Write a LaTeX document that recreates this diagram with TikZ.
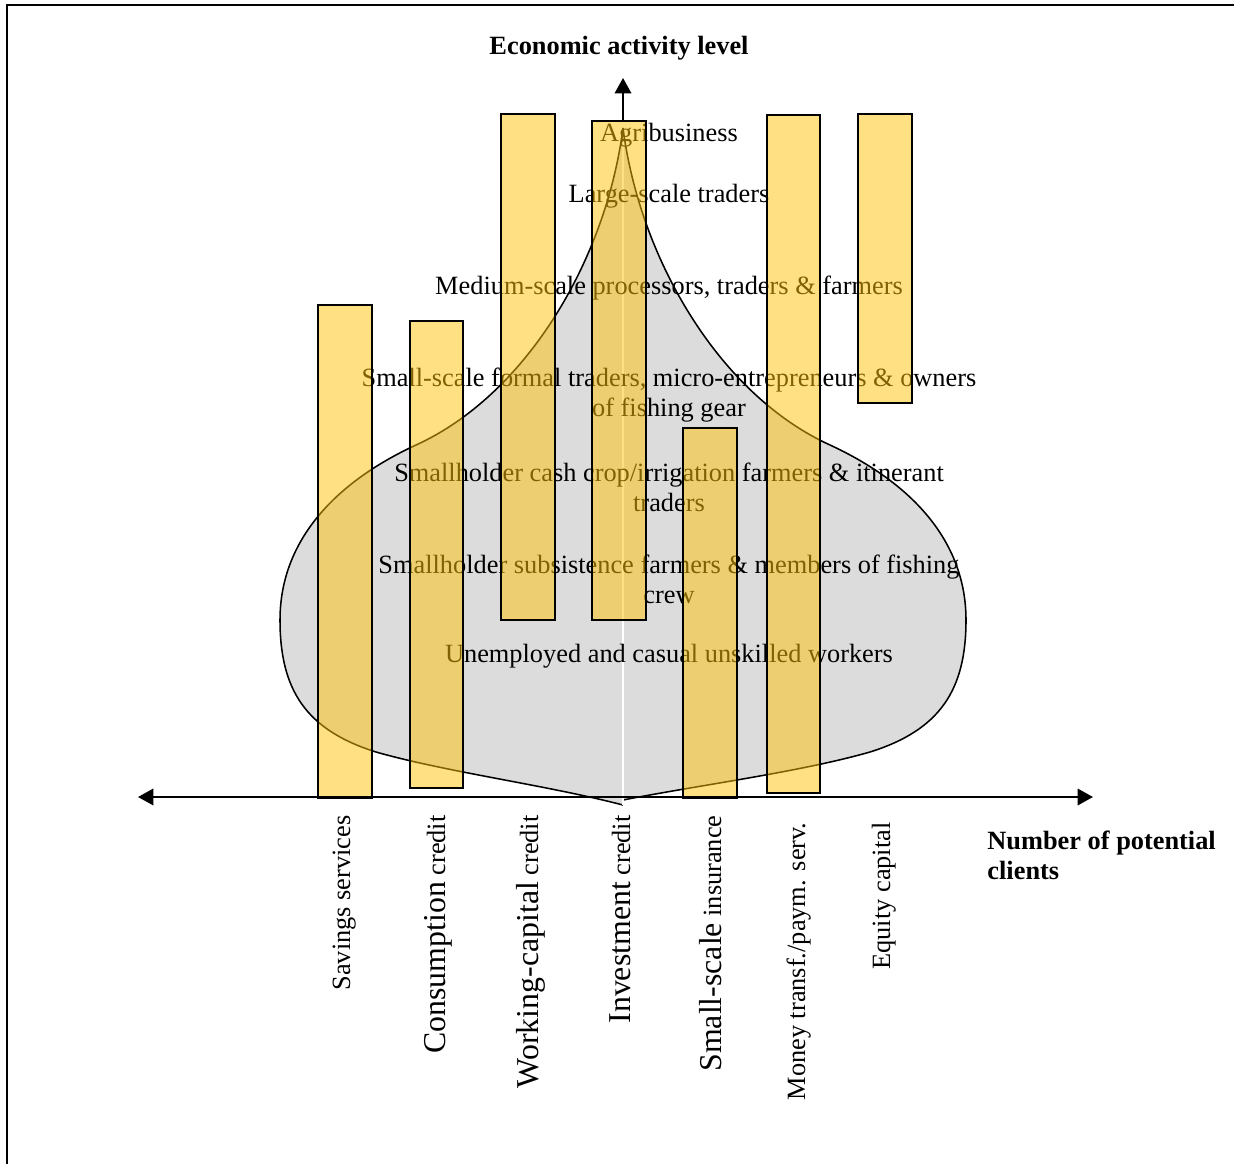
\documentclass[tikz,border=0pt]{standalone}
\usepackage{fontspec}
\setmainfont{Liberation Serif}
\usetikzlibrary{arrows.meta,positioning}

\definecolor{baryellow}{RGB}{255,196,10}
\definecolor{shapegray}{RGB}{220,220,220}
\newcommand{\biglbl}[1]{{\fontsize{14.5}{16}\selectfont #1}}

\tikzset{
  bar/.style={draw=black,line width=.9pt,fill=baryellow,fill opacity=.5},
  group/.style={align=center,inner sep=0pt},
  prod/.style={rotate=90,anchor=base east,inner sep=0pt},
  axistitle/.style={font=\fontsize{12}{13.6}\selectfont\bfseries,inner sep=0pt}
}

\begin{document}
\begin{tikzpicture}[x=0.016cm,y=-0.016cm,
    every node/.style={font=\fontsize{12}{13.6}\selectfont},
    >={Triangle[length=7pt,width=7.5pt]}]
    \useasboundingbox (0,0) rectangle (1234,1164);

    % frame
    \draw[line width=1pt] (7,1164) -- (7,5) -- (1234,5);

    % client distribution
    \fill[shapegray] (623,128) .. controls (640,260) and (720,395) .. (830,445)
      .. controls (910,482) and (966,540) .. (966,620)
      .. controls (966,690) and (940,730) .. (870,752)
      .. controls (800,772) and (700,785) .. (623,800)
      -- (623,805)
      .. controls (546,785) and (446,772) .. (376,752)
      .. controls (306,730) and (280,690) .. (280,620)
      .. controls (280,540) and (336,482) .. (416,445)
      .. controls (526,395) and (606,260) .. (623,128) -- cycle;
    \draw[line width=.7pt] (623,128) .. controls (640,260) and (720,395) .. (830,445)
      .. controls (910,482) and (966,540) .. (966,620)
      .. controls (966,690) and (940,730) .. (870,752)
      .. controls (800,772) and (700,785) .. (623,800);
    \draw[line width=.7pt] (623,128) .. controls (606,260) and (526,395) .. (416,445)
      .. controls (336,482) and (280,540) .. (280,620)
      .. controls (280,690) and (306,730) .. (376,752)
      .. controls (446,772) and (546,785) .. (623,805);
    \draw[white,line width=.8pt] (623,140) -- (623,805);

    \node[group] (agri) at (669,135) {Agribusiness};
    \node[group] (large) at (669,196) {Large-scale traders};
    \node[group] (medium) at (669,288) {Medium-scale processors, traders \& farmers};
    \node[group] (formal) at (669,395) {Small-scale formal traders, micro-entrepreneurs \& owners\\of fishing gear};
    \node[group] (cash) at (669,487) {Smallholder cash crop/irrigation farmers \& itinerant\\traders};
    \node[group] (subsist) at (669,579) {Smallholder subsistence farmers \& members of fishing\\crew};
    \node[group] (unemp) at (669,656) {Unemployed and casual unskilled workers};

    % services
    \draw[bar] (318,305) rectangle (372,798);
    \draw[bar] (410,321) rectangle (463,788);
    \draw[bar] (501,114) rectangle (555,620);
    \draw[bar] (592,121) rectangle (646,620);
    \draw[bar] (683,428) rectangle (737,798);
    \draw[bar] (767,115) rectangle (820,793);
    \draw[bar] (858,114) rectangle (912,403);

    \node[prod] (savings) at (350,815) {Savings services};
    \node[prod] (consum) at (445,815) {\biglbl{Consumption} credit};
    \node[prod] (working) at (538,815) {\biglbl{Working-capital} credit};
    \node[prod] (invest) at (630,815) {\biglbl{Investment} credit};
    \node[prod] (insur) at (721,815) {\biglbl{Small-scale} insurance};
    \node[prod] (money) at (805,822) {Money transf./paym. serv.};
    \node[prod] (equity) at (890,822) {Equity capital};

    % axes
    \coordinate (xleft) at (138,797);
    \coordinate (xright) at (1093,797);
    \coordinate (ybase) at (623,121);
    \coordinate (ytop) at (623,78);
    \draw[<->,line width=.9pt] (xleft) -- (xright);
    \draw[->,line width=.9pt] (ybase) -- (ytop);

    \node[axistitle] (ytitle) at (619,48) {Economic activity level};
    \node[axistitle,align=left,anchor=west] (xtitle) at (987,855) {Number of potential\\clients};
\end{tikzpicture}
\end{document}
